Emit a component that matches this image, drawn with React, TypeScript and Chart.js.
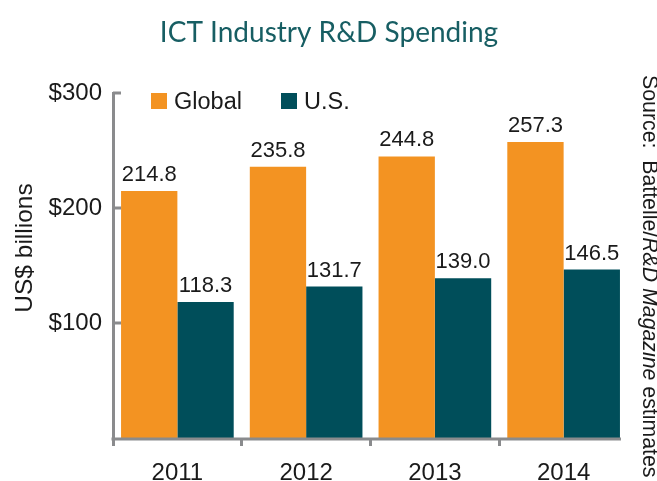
import React, { useEffect, useRef } from 'react';
import { Chart, registerables } from 'chart.js';

Chart.register(...registerables);

const categories = ['2011', '2012', '2013', '2014'];
const globalValues = [214.8, 235.8, 244.8, 257.3];
const usValues = [118.3, 131.7, 139.0, 146.5];
const seriesNames = ['Global', 'U.S.'];
const yTickValues = [100, 200, 300];
const titleText = 'ICT Industry R&D Spending';
const yAxisTitle = 'US$ billions';
const sourceParts = [
  { text: 'Source:  Battelle/', italic: false },
  { text: 'R&D Magazine', italic: true },
  { text: ' estimates', italic: false },
];

const ORANGE = '#F39322';
const TEAL = '#004E5A';
const GRAY = '#8A8B8D';
const TEXT = '#1A1A1A';
const TITLE = '#175E63';
const SANS = '"Liberation Sans", Arial, Helvetica, sans-serif';

const decor = {
  id: 'decor',
  afterDatasetsDraw(chart: any) {
    const { ctx, chartArea } = chart;
    ctx.save();
    // x axis line, ending at the last bar
    const meta = chart.getDatasetMeta(1);
    const lastBar = meta.data[meta.data.length - 1] as any;
    const right = lastBar.x + lastBar.width / 2 + 1;
    ctx.strokeStyle = GRAY;
    ctx.lineWidth = 3;
    ctx.beginPath();
    ctx.moveTo(chartArea.left - 1.5, chartArea.bottom + 1);
    ctx.lineTo(right, chartArea.bottom + 1);
    ctx.stroke();
    // inward y ticks
    const ys = chart.scales.y;
    yTickValues.forEach((v) => {
      const py = ys.getPixelForValue(v);
      ctx.beginPath();
      ctx.moveTo(chartArea.left, py);
      ctx.lineTo(chartArea.left + 8, py);
      ctx.stroke();
    });
    // data labels
    ctx.fillStyle = TEXT;
    ctx.font = `22px ${SANS}`;
    ctx.textAlign = 'center';
    ctx.textBaseline = 'alphabetic';
    chart.data.datasets.forEach((ds: any, di: number) => {
      chart.getDatasetMeta(di).data.forEach((el: any, i: number) => {
        ctx.fillText(Number(ds.data[i]).toFixed(1), el.x, el.y - 10);
      });
    });
    // legend
    const colors = [ORANGE, TEAL];
    const legendX = [chartArea.left + 38, chartArea.left + 168];
    ctx.textAlign = 'left';
    ctx.font = `23.5px ${SANS}`;
    seriesNames.forEach((name, i) => {
      ctx.fillStyle = colors[i];
      ctx.fillRect(legendX[i], chartArea.top, 16, 16);
      ctx.fillStyle = TEXT;
      ctx.fillText(name, legendX[i] + 23, chartArea.top + 15.5);
    });
    ctx.restore();
  },
  afterDraw(chart: any) {
    const { ctx } = chart;
    ctx.save();
    // title
    ctx.fillStyle = TITLE;
    ctx.font = `28px Lato, "Open Sans", sans-serif`;
    ctx.textAlign = 'center';
    ctx.textBaseline = 'alphabetic';
    ctx.fillText(titleText, 329, 42);
    // y title
    ctx.fillStyle = TEXT;
    ctx.font = `24.5px ${SANS}`;
    ctx.save();
    ctx.translate(32, 248);
    ctx.rotate(-Math.PI / 2);
    ctx.fillText(yAxisTitle, 0, 0);
    ctx.restore();
    // source note
    ctx.save();
    ctx.translate(643, 75);
    ctx.rotate(Math.PI / 2);
    ctx.textAlign = 'left';
    let x = 0;
    sourceParts.forEach((p) => {
      ctx.font = `${p.italic ? 'italic ' : ''}21.3px ${SANS}`;
      ctx.fillText(p.text, x, 0);
      x += ctx.measureText(p.text).width;
    });
    ctx.restore();
    ctx.restore();
  },
};

export default function App() {
  const ref = useRef<HTMLCanvasElement | null>(null);
  useEffect(() => {
    if (!ref.current) return;
    const chart = new Chart(ref.current, {
      type: 'bar',
      data: {
        labels: categories,
        datasets: [
          { label: seriesNames[0], data: globalValues, backgroundColor: ORANGE, borderWidth: 0 },
          { label: seriesNames[1], data: usValues, backgroundColor: TEAL, borderWidth: 0 },
        ],
      },
      options: {
        responsive: false,
        animation: false,
        events: [],
        layout: { padding: { top: 93, right: 29, bottom: 0, left: 0 } },
        datasets: { bar: { categoryPercentage: 0.875, barPercentage: 1 } },
        plugins: {
          legend: { display: false },
          title: { display: false },
          tooltip: { enabled: false },
        },
        scales: {
          x: {
            grid: {
              display: true,
              offset: true,
              drawOnChartArea: false,
              drawTicks: true,
              tickLength: 8,
              lineWidth: 3,
              color: (c: any) => (c.type === 'tick' ? GRAY : 'rgba(0,0,0,0)'),
            },
            border: { display: false },
            ticks: { color: TEXT, font: { family: SANS, size: 24 }, padding: 13 },
            afterFit: (s: any) => {
              s.height = 43;
            },
          },
          y: {
            min: 0,
            max: 300,
            grid: { display: false, drawTicks: false },
            border: { display: true, color: GRAY, width: 3 },
            ticks: {
              stepSize: 100,
              padding: 11,
              color: TEXT,
              font: { family: SANS, size: 24 },
              callback: (v: any) => (v === 0 ? '' : '$' + v),
            },
            afterFit: (s: any) => {
              s.width = 113;
            },
          },
        },
      },
      plugins: [decor],
    });
    return () => chart.destroy();
  }, []);
  return (
    <div style={{ position: 'fixed', left: 0, top: 0, width: 657, height: 481, background: '#fff' }}>
      <canvas ref={ref} width={657} height={481} style={{ display: 'block', width: 657, height: 481 }} />
    </div>
  );
}
